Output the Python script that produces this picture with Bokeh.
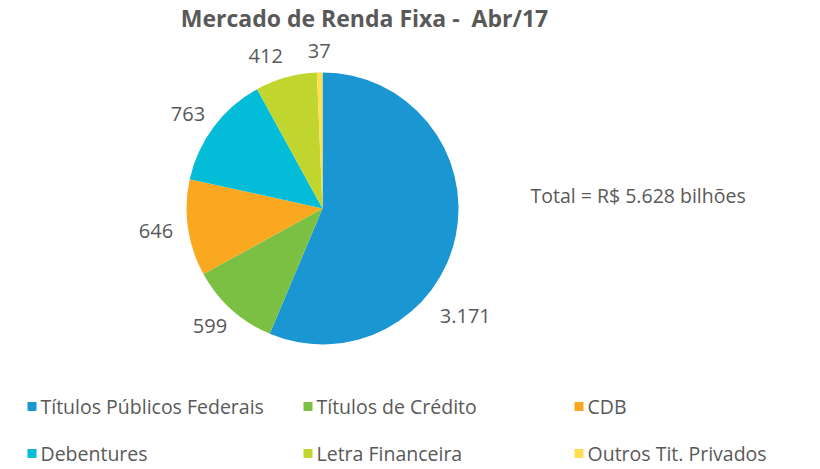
import math
from bokeh.plotting import figure
from bokeh.models import Range1d, ColumnDataSource
from bokeh.core.properties import value
from bokeh.embed import file_html
from bokeh.resources import INLINE

# ---- data ----
categories = ["Títulos Públicos Federais", "Títulos de Crédito", "CDB",
              "Debentures", "Letra Financeira", "Outros Tit. Privados"]
amounts = [3171, 599, 646, 763, 412, 37]
labels = ["3.171", "599", "646", "763", "412", "37"]
colors = ["#1A96D3", "#7CC043", "#F9A81F", "#03BCD8", "#C0D62F", "#FFDF4F"]
title_text = "Mercado de Renda Fixa -\u00a0 Abr/17"
total_text = "Total = R$ 5.628 bilhões"

W, H = 820, 469
FONT = "Open Sans"
GREY = "#595959"

def X(px):  # image pixel -> data
    return px
def Y(py):
    return H - py

p = figure(width=W, height=H, output_backend="svg", toolbar_location=None,
           x_range=Range1d(0, W), y_range=Range1d(0, H),
           min_border=0, outline_line_color=None)
p.axis.visible = False
p.grid.visible = False
p.background_fill_color = "white"
p.border_fill_color = "white"

# ---- pie ----
total = sum(amounts)
cx, cy, r = X(322), Y(208), 136
starts, ends, mids = [], [], []
cum = 0
for a in amounts:
    s = math.pi / 2 - 2 * math.pi * cum / total
    cum += a
    e = math.pi / 2 - 2 * math.pi * cum / total
    starts.append(s); ends.append(e); mids.append((s + e) / 2)

src = ColumnDataSource(dict(start=starts, end=ends, color=colors))
p.wedge(x=cx, y=cy, radius=r, radius_units="screen", start_angle="start",
        end_angle="end", direction="clock", fill_color="color",
        line_color=None, source=src)

# data labels: outside end, box pushed out along the mid-angle
gap, half_h, char_w = 15, 7, 11.5
lx, ly = [], []
for i, t in enumerate(labels):
    th = mids[i]
    half_w = len(t) * char_w / 2
    ax = cx + (r + gap) * math.cos(th) + math.cos(th) * half_w
    ay = cy + (r + gap) * math.sin(th) + math.sin(th) * half_h
    lx.append(ax); ly.append(ay)
# best-fit style moves (angle in degrees, distance from centre)
moves = {0: (-37.1, 179), 4: (110.4, 163)}
for i, (ang, d) in moves.items():
    lx[i] = cx + d * math.cos(math.radians(ang))
    ly[i] = cy + d * math.sin(math.radians(ang))
p.text(x=lx, y=ly, text=labels, text_font=value(FONT), text_font_size="20px",
       text_color=GREY, text_align="center", text_baseline="middle")

# title
p.text(x=[X(364)], y=[Y(17)], text=[title_text], text_font=value(FONT),
       text_font_size="23px", text_font_style="bold", text_color=GREY,
       text_align="center", text_baseline="middle")

# total annotation
p.text(x=[X(530)], y=[Y(195)], text=[total_text], text_font=value(FONT),
       text_font_size="19.5px", text_color=GREY, text_align="left",
       text_baseline="middle")

# legend
col_x = [27, 303, 574]
row_y = [406, 453]
sq = 9
for i, (cat, c) in enumerate(zip(categories, colors)):
    col, row = i % 3, i // 3
    x0, y0 = col_x[col], row_y[row]
    p.rect(x=[X(x0 + sq / 2)], y=[Y(y0)], width=sq, height=sq,
           width_units="screen", height_units="screen",
           fill_color=c, line_color=None)
    p.text(x=[X(x0 + sq + 4)], y=[Y(y0)], text=[cat], text_font=value(FONT),
           text_font_size="19.5px", text_color=GREY, text_align="left",
           text_baseline="middle")

open("out.html", "w").write(file_html(p, INLINE))
